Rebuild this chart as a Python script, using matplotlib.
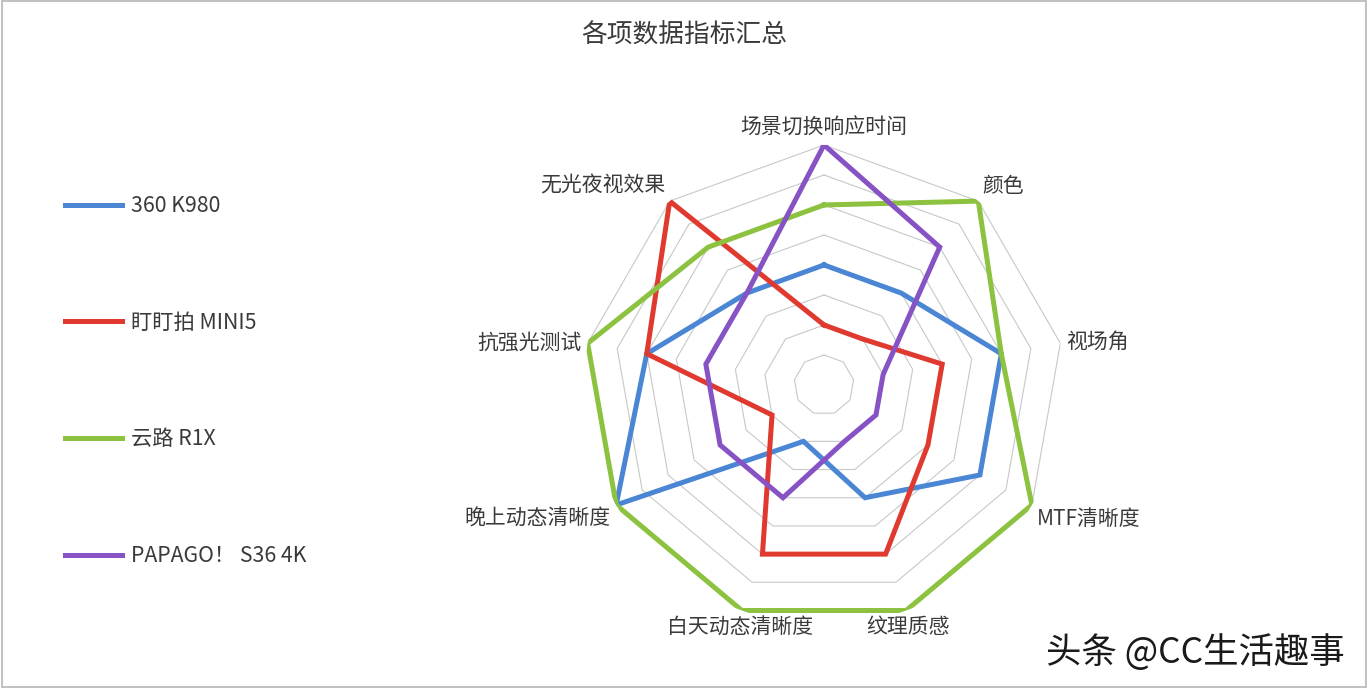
import matplotlib
matplotlib.use('Agg')
import matplotlib.pyplot as plt
from matplotlib.patches import Rectangle
import numpy as np

plt.rcParams['font.family'] = ['Noto Sans CJK SC', 'DejaVu Sans']

# data
categories = ['场景切换响应时间', '颜色', '视场角', 'MTF清晰度', '纹理质感',
              '白天动态清晰度', '晚上动态清晰度', '抗强光测试', '无光夜视效果']
series_names = ['360 K980', '盯盯拍 MINI5', '云路 R1X', 'PAPAGO！ S36 4K']
k980 = [4, 4, 6, 6, 4, 2, 8, 6, 4]
mini5 = [2, 2, 4, 4, 6, 6, 2, 6, 8]
r1x = [6, 8, 6, 8, 8, 8, 8, 8, 6]
s36 = [8, 6, 2, 2, 2, 4, 4, 4, 4]
ring_levels = [1, 2, 3, 4, 5, 6, 7, 8]

colors = ['#4a86d4', '#e03a30', '#8cc23f', '#8652c4']

fig = plt.figure(figsize=(13.68, 6.88), dpi=100)
fig.patch.set_facecolor('white')

ax = fig.add_axes([0.4269, 0.0916, 0.3509, 0.6977], projection='polar')
ax.set_theta_offset(np.pi / 2)
ax.set_theta_direction(-1)
ax.set_ylim(0, 8)
ax.grid(False)
ax.spines['polar'].set_visible(False)
ax.set_xticks([])
ax.set_yticks([])
ax.patch.set_alpha(0)

n = len(categories)
theta = np.linspace(0, 2 * np.pi, n, endpoint=False)
theta_c = np.append(theta, theta[0])

# nonagon grid rings
for lev in ring_levels:
    ax.plot(theta_c, [lev] * (n + 1), color='#c8c8c8', lw=0.8, zorder=1)

for vals, name, c in zip([k980, mini5, r1x, s36], series_names, colors):
    ax.plot(theta_c, list(vals) + [vals[0]], color=c, lw=3.6, label=name,
            solid_joinstyle='miter', zorder=3)

# category labels
for t, lab in zip(theta, categories):
    ang = np.pi / 2 - t
    cx, sy = np.cos(ang), np.sin(ang)
    ha = 'left' if cx > 0.4 else ('right' if cx < -0.4 else 'center')
    va = 'bottom' if sy > 0.3 else ('top' if sy < -0.3 else 'center')
    ax.text(t, 8.2, lab, ha=ha, va=va, fontsize=15, color='#3a3a3a')

fig.text(0.5, 0.949, '各项数据指标汇总', ha='center', va='center',
         fontsize=18.5, color='#3a3a3a')

handles, labels = ax.get_legend_handles_labels()
fig.legend(handles, labels, loc='center left', bbox_to_anchor=(65 / 1368, 0.446),
           frameon=False, fontsize=15.3, handlelength=2.7, handletextpad=0.4,
           labelspacing=4.45, borderpad=0, borderaxespad=0,
           labelcolor='#3a3a3a')

fig.text(0.8735, 0.052, '头条 @CC生活趣事', ha='center', va='center',
         fontsize=25.5, color='#1a1a1a')

fig.patches.append(Rectangle((0.0015, 0.002), 0.997, 0.996, transform=fig.transFigure,
                             fill=False, edgecolor='#b5b5b5', lw=1.2))

fig.savefig('out.png', dpi=100)
